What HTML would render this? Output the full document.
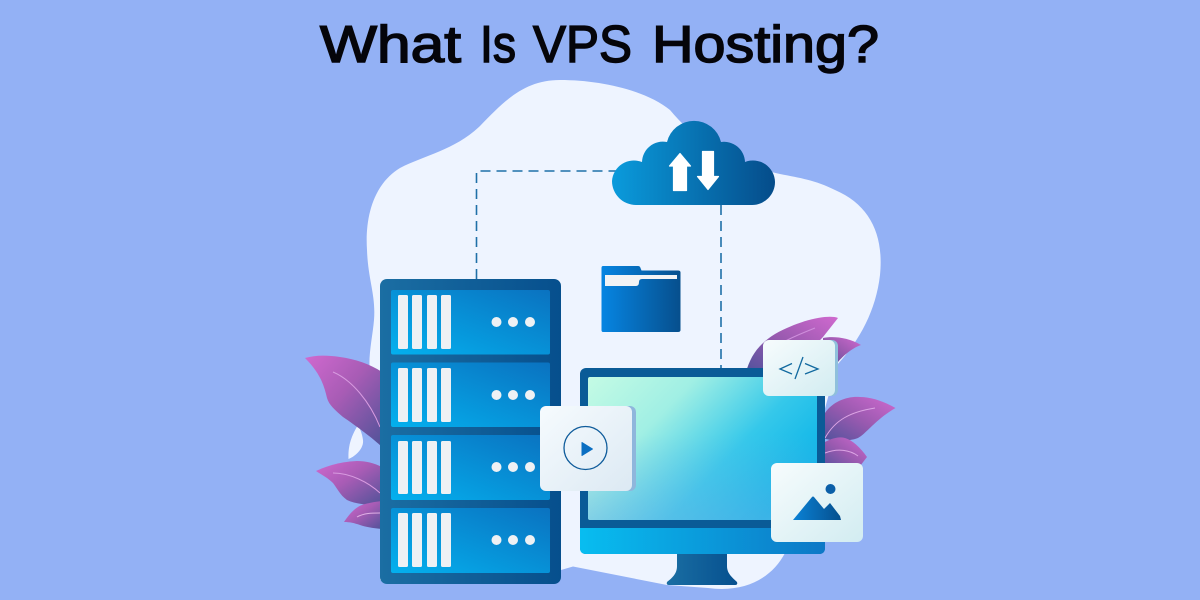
<!DOCTYPE html>
<html><head><meta charset="utf-8"><title>What Is VPS Hosting?</title>
<style>html,body{margin:0;padding:0;background:#93b1f5;width:1200px;height:600px;overflow:hidden}svg{display:block}</style></head>
<body>
<svg width="1200" height="600" viewBox="0 0 1200 600" xmlns="http://www.w3.org/2000/svg">
<defs>
<linearGradient id="panel" x1="0" y1="1" x2="1" y2="0"><stop offset="0" stop-color="#04b0ee"/><stop offset="1" stop-color="#0a72c0"/></linearGradient>
<linearGradient id="rack" x1="0" y1="0" x2="1" y2="0"><stop offset="0" stop-color="#1b6ea3"/><stop offset="1" stop-color="#064f8d"/></linearGradient>
<linearGradient id="cloud" gradientUnits="userSpaceOnUse" x1="612" y1="0" x2="775" y2="0"><stop offset="0" stop-color="#0a9bdc"/><stop offset="1" stop-color="#054c8a"/></linearGradient>
<linearGradient id="folder" x1="0" y1="0" x2="1" y2="0"><stop offset="0" stop-color="#0685e2"/><stop offset="1" stop-color="#064f8d"/></linearGradient>
<linearGradient id="screen" x1="0" y1="0" x2="1" y2=".6"><stop offset="0" stop-color="#c4fbe4"/><stop offset=".35" stop-color="#a0efe4"/><stop offset=".7" stop-color="#35c8ea"/><stop offset="1" stop-color="#0cb4e8"/></linearGradient>
<linearGradient id="screen2" x1="0" y1="0" x2="0" y2="1"><stop offset=".4" stop-color="#7fb4e6" stop-opacity="0"/><stop offset="1" stop-color="#7fb4e6" stop-opacity=".42"/></linearGradient>
<linearGradient id="band" x1="0" y1="0" x2="1" y2="0"><stop offset="0" stop-color="#08bdf0"/><stop offset="1" stop-color="#0d78c6"/></linearGradient>
<linearGradient id="stand" x1="0" y1="0" x2="1" y2="0"><stop offset="0" stop-color="#1a6ea3"/><stop offset="1" stop-color="#06508f"/></linearGradient>
<linearGradient id="leafL" x1="0" y1="0" x2="1" y2="1"><stop offset="0" stop-color="#d069cf"/><stop offset=".45" stop-color="#a85cb5"/><stop offset="1" stop-color="#4f5298"/></linearGradient>
<linearGradient id="leafR" x1="1" y1="0" x2="0" y2="1"><stop offset="0" stop-color="#d069cf"/><stop offset=".5" stop-color="#9a5ab0"/><stop offset="1" stop-color="#50529c"/></linearGradient>
<linearGradient id="card" x1="0" y1="0" x2="1" y2="1"><stop offset="0" stop-color="#f6fbfe"/><stop offset="1" stop-color="#dce9f3"/></linearGradient>
<linearGradient id="card2" x1="0" y1="0" x2="1" y2="1"><stop offset="0" stop-color="#f7fcfd"/><stop offset="1" stop-color="#d2ecf1"/></linearGradient>
<linearGradient id="mt" x1="0" y1="0" x2="1" y2="0"><stop offset="0" stop-color="#0a82d6"/><stop offset="1" stop-color="#064f8d"/></linearGradient>
</defs>

<rect width="1200" height="600" fill="#93b1f5"/>

<g font-family="'Liberation Sans',sans-serif" font-size="52" fill="#05050a" stroke="#05050a" stroke-width="1.500">
<text x="320" y="62" textLength="141" lengthAdjust="spacingAndGlyphs">What</text>
<text x="480" y="62" textLength="36" lengthAdjust="spacingAndGlyphs">Is</text>
<text x="533" y="62" textLength="99" lengthAdjust="spacingAndGlyphs">VPS</text>
<text x="652" y="62" textLength="227" lengthAdjust="spacingAndGlyphs">Hosting?</text>
</g>

<!-- blob -->
<path d="M560 80 C525 80 505 100 480 126 C455 150 425 155 400 168 C372 185 365 220 367 250 C368 280 376 295 374 320 C372 345 362 375 380 400 L380 580 L561 570 L573 566.500 L667 585 L708 588 C745 593 772 578 785 553 L837 365 C860 340 876 310 880 275 C884 235 870 205 835 190 C815 180 800 178 780 174 C745 166 705 152 670 110 C645 90 600 80 560 80 Z" fill="#eef4ff"/>
<path d="M358 425 C350 438 348 448 348.500 459 C356 456 364 448 363 440 C362 433 360 429 358 425 Z" fill="#eef4ff"/>

<!-- dashed connectors -->
<g fill="none" stroke="#1f70a8" stroke-width="1.600" stroke-dasharray="10 6">
<path d="M476.500 279 V171 H616"/>
<path d="M721 205 V370"/>
</g>

<!-- left leaves -->
<path d="M305 358 C315 355 327 355 340 357 C355 359 370 364 382 372 L382 447 C375 440 355 425 343 417 C335 410 329 405 327 398 C324 385 320 373 305 358 Z" fill="url(#leafL)"/>
<path d="M333 372 C352 380 370 402 380 427" fill="none" stroke="#d89be0" stroke-width="1"/>
<path d="M316 471 C325 467 337 462 357 461 C366 461 374 463 382 467 L382 506 C368 505 355 504 347 500 C340 495 337 488 333 483 C328 478 322 475 316 471 Z" fill="url(#leafL)"/>
<path d="M333 473 C350 473 368 482 380 493" fill="none" stroke="#d89be0" stroke-width="1"/>
<path d="M344 522 C350 513 356 507 362 505 C368 503 374 502 382 501 L382 529 C372 528 366 527 360 525 C354 523 350 522 344 522 Z" fill="url(#leafL)"/>
<path d="M357 517 C364 513 372 513 380 513" fill="none" stroke="#e0b0e6" stroke-width="1"/>

<!-- right leaves -->
<path d="M838 318 C828 314 800 320 775 334 C757 345 750 358 746 372 L790 372 L823 337 Z" fill="url(#leafR)"/>
<path d="M815 328 C800 334 785 340 770 350" fill="none" stroke="#cf8fdc" stroke-width="1"/>
<path d="M823 338 C832 336 848 337 861 345 C852 348 843 356 838 362 L823 364 Z" fill="url(#leafR)"/>
<path d="M895.500 408 C885 402 872 397 860 397 C848 396 833 401 825 413 L823 438 C830 441 848 442 858 438 C866 434 875 420 895.500 408 Z" fill="url(#leafR)"/>
<path d="M825 438 C835 420 850 412 875 408" fill="none" stroke="#dca4e4" stroke-width="1"/>
<path d="M867 457 C860 447 852 440 845 438 C838 436 830 439 823 443 L823 470 L857 470 Z" fill="url(#leafR)"/>
<path d="M825 453 C838 448 850 450 858 456" fill="none" stroke="#dca4e4" stroke-width="1"/>

<!-- server rack -->
<rect x="380" y="279" width="181" height="305" rx="7" fill="url(#rack)"/>
<g>
<rect x="391" y="290" width="159" height="64.500" rx="2" fill="url(#panel)"/>
<g fill="#eef1f4"><rect x="398" y="295" width="10" height="54" rx="1.500"/><rect x="412" y="295" width="10" height="54" rx="1.500"/><rect x="427" y="295" width="10" height="54" rx="1.500"/><rect x="441" y="295" width="10" height="54" rx="1.500"/>
<circle cx="496.500" cy="322" r="5"/><circle cx="513" cy="322" r="5"/><circle cx="530" cy="322" r="5"/></g>
</g>
<g>
<rect x="391" y="362.500" width="159" height="64.500" rx="2" fill="url(#panel)"/>
<g fill="#eef1f4"><rect x="398" y="368" width="10" height="54" rx="1.500"/><rect x="412" y="368" width="10" height="54" rx="1.500"/><rect x="427" y="368" width="10" height="54" rx="1.500"/><rect x="441" y="368" width="10" height="54" rx="1.500"/>
<circle cx="496.500" cy="395" r="5"/><circle cx="513" cy="395" r="5"/><circle cx="530" cy="395" r="5"/></g>
</g>
<g>
<rect x="391" y="435" width="159" height="65" rx="2" fill="url(#panel)"/>
<g fill="#eef1f4"><rect x="398" y="441" width="10" height="53" rx="1.500"/><rect x="412" y="441" width="10" height="53" rx="1.500"/><rect x="427" y="441" width="10" height="53" rx="1.500"/><rect x="441" y="441" width="10" height="53" rx="1.500"/>
<circle cx="496.500" cy="467" r="5"/><circle cx="513" cy="467" r="5"/><circle cx="530" cy="467" r="5"/></g>
</g>
<g>
<rect x="391" y="508" width="159" height="65" rx="2" fill="url(#panel)"/>
<g fill="#eef1f4"><rect x="398" y="513" width="10" height="54" rx="1.500"/><rect x="412" y="513" width="10" height="54" rx="1.500"/><rect x="427" y="513" width="10" height="54" rx="1.500"/><rect x="441" y="513" width="10" height="54" rx="1.500"/>
<circle cx="496.500" cy="540" r="5"/><circle cx="513" cy="540" r="5"/><circle cx="530" cy="540" r="5"/></g>
</g>

<!-- cloud -->
<path d="M636 205 A24 24 0 0 1 612 181 A22 22 0 0 1 642 162 A21 21 0 0 1 667 142 A27.800 27.800 0 0 1 721 142 A21 21 0 0 1 745 162 A22 22 0 0 1 775 182 A23 23 0 0 1 752 205 Z" fill="url(#cloud)"/>
<path d="M680 153.500 L690.500 166 H686.500 V190.500 H673.500 V166 H669.500 Z" fill="#fff" stroke="#fff" stroke-width="1.200" stroke-linejoin="round"/>
<path d="M702.500 151.500 H713.500 V176.500 H718.500 L708 189.500 L697.500 176.500 H702.500 Z" fill="#fff" stroke="#fff" stroke-width="1.200" stroke-linejoin="round"/>

<!-- folder -->
<path d="M603 266 H638 Q640 266 640.500 268 L641.500 270.500 H678 Q680.500 270.500 680.500 272.500 V330 Q680.500 332 678 332 H603 Q601.500 332 601.500 330 V268 Q601.500 266 603 266 Z" fill="url(#folder)"/>
<path d="M605 275 H677 V279 H642 Q639 279 639 282 Q639 286 636 286 H605 Z" fill="#f1f3f5"/>

<!-- monitor -->
<path d="M677 554 H727 V566 C727 574 733 578 737 582 Q738 585 735 585 H669 Q666 585 667 582 C672 578 677 574 677 566 Z" fill="url(#stand)"/>
<rect x="580" y="368" width="245" height="186" rx="6" fill="#0a5b97"/>
<path d="M580 528 H825 V548 Q825 554 819 554 H586 Q580 554 580 548 Z" fill="url(#band)"/>
<rect x="588" y="377" width="229" height="143" rx="2" fill="url(#screen)"/>
<rect x="588" y="377" width="229" height="143" rx="2" fill="url(#screen2)"/>

<!-- play card -->
<rect x="544" y="406" width="92" height="85" rx="6" fill="#8fb6dc"/>
<rect x="540" y="406" width="92" height="85" rx="6" fill="url(#card)"/>
<circle cx="585.500" cy="448" r="21.500" fill="none" stroke="#0f5c9b" stroke-width="1.300"/>
<path d="M582 442.500 L592.500 449 L582 455.500 Z" fill="#0b6fc2" stroke="#0b6fc2" stroke-linejoin="round"/>

<!-- code card -->
<rect x="767" y="340" width="71" height="56" rx="6" fill="#8fc0dc"/>
<rect x="763" y="340" width="72" height="56" rx="6" fill="url(#card2)"/>
<g fill="none" stroke="#11699f" stroke-width="1.300">
<path d="M792 363.500 L780 369 L792 374"/>
<path d="M805 363.500 L818 369 L805 374"/>
<path d="M803 357 L795 379"/>
</g>

<!-- image card -->
<rect x="771" y="463" width="92" height="79" rx="6" fill="url(#card2)"/>
<circle cx="830.500" cy="489" r="5" fill="#0b5fa8"/>
<path d="M793 520 L812 497 Q813 496 814 497 L824 509 L830 503 L840 516 L841 520 Z" fill="url(#mt)"/>
</svg>
</body></html>
